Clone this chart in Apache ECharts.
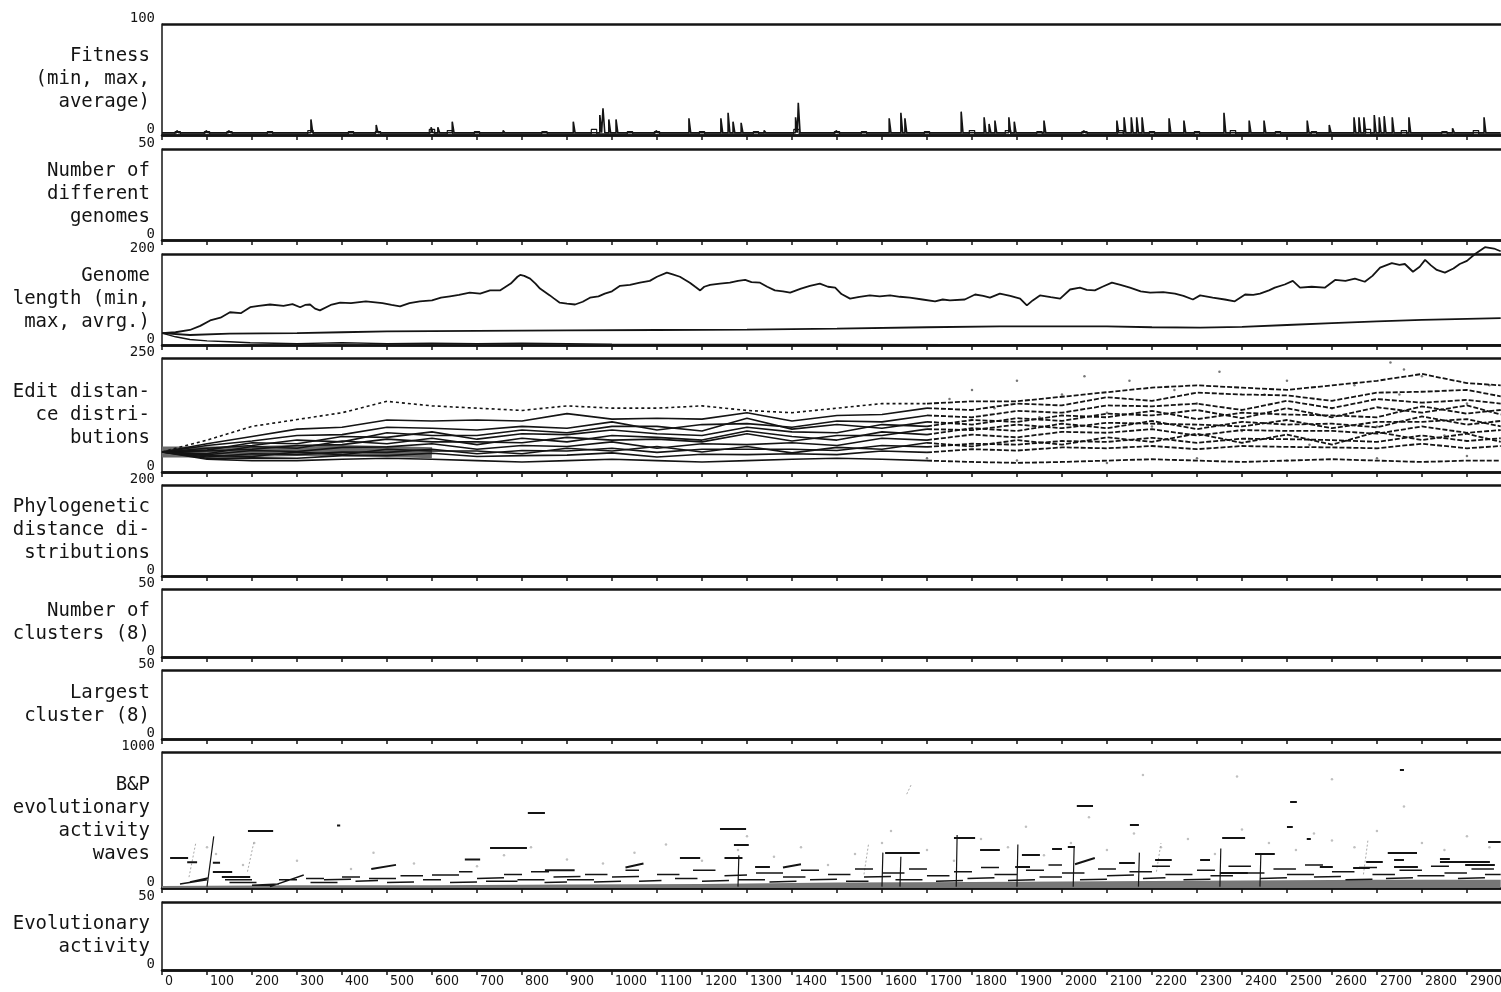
<!DOCTYPE html>
<html><head><meta charset="utf-8">
<script src="https://cdn.jsdelivr.net/npm/echarts@6/dist/echarts.min.js"></script>
<style>html,body{margin:0;padding:0;background:#fff}#c{width:1501px;height:992px}</style>
</head><body><div id="c"></div>
<script>
// ---------------- DATA ----------------
const panelNames = [
  'Fitness\n(min, max,\naverage)',
  'Number of\ndifferent\ngenomes',
  'Genome\nlength (min,\nmax, avrg.)',
  'Edit distan-\nce distri-\nbutions',
  'Phylogenetic\ndistance di-\nstributions',
  'Number of\nclusters (8)',
  'Largest\ncluster (8)',
  'B&P\nevolutionary\nactivity\nwaves',
  'Evolutionary\nactivity'
];
const panelMax = [100, 50, 200, 250, 200, 50, 50, 1000, 50];
const xMin = 0, xEnd = 2975;

// Fitness: max-fitness spikes and average-fitness bumps
const fitMaxBase = 2;
const fitSpikeGen = [35,100,150,333,478,600,615,647,760,916,975,982,995,1011,1100,1173,1244,1260,1271,1289,1340,1410,1416,1500,1618,1644,1653,1778,1829,1840,1853,1884,1896,1962,2050,2124,2140,2156,2168,2180,2240,2273,2362,2418,2451,2547,2596,2651,2662,2673,2696,2707,2718,2736,2773,2870,2940];
const fitSpikeVal = [4,4,4,14,9,7,7,12,4,12,18,24,14,14,4,15,15,20,12,11,4,16,29,4,15,20,15,21,16,10,13,16,12,13,4,13,16,16,16,16,15,13,20,13,13,13,9,16,16,16,18,16,17,16,16,6,16];
const fitAvgBase = 1;
const fitAvgGen = [35,100,150,240,330,420,480,600,640,700,850,960,1040,1100,1200,1320,1410,1500,1560,1700,1800,1880,1950,2050,2130,2200,2300,2380,2480,2560,2680,2760,2850,2920];
const fitAvgVal = [3,3,3,3,4,3,3,5,4,3,3,5,3,3,3,3,5,3,3,3,4,4,3,3,4,3,3,4,3,3,5,4,3,4];

// Genome length
const gMaxGen = [0,30,62,85,107,130,151,175,196,215,240,270,290,307,318,329,340,351,375,396,420,453,490,510,529,550,573,600,620,640,660,684,707,729,751,775,790,796,805,818,830,840,862,870,884,900,918,935,951,970,984,1000,1018,1040,1062,1084,1100,1122,1135,1151,1173,1185,1196,1205,1218,1240,1262,1280,1296,1310,1329,1345,1362,1380,1396,1420,1440,1462,1480,1496,1510,1529,1550,1573,1595,1618,1640,1662,1690,1718,1735,1751,1784,1807,1825,1840,1862,1885,1907,1922,1935,1951,1975,1996,2018,2040,2055,2073,2090,2111,2130,2151,2175,2196,2225,2251,2270,2291,2307,2335,2362,2384,2407,2425,2440,2460,2473,2495,2513,2529,2555,2584,2607,2630,2651,2673,2690,2707,2733,2750,2762,2780,2795,2807,2820,2833,2851,2870,2884,2900,2918,2940,2960,2975];
const gMaxVal = [26,28,33,42,54,60,72,70,83,86,89,86,90,83,88,89,80,76,88,93,92,96,92,88,85,92,96,98,104,107,110,115,113,120,120,135,150,154,152,146,135,124,109,103,93,91,89,95,104,107,113,118,130,132,137,141,150,159,155,150,137,128,120,128,132,135,137,141,143,138,137,128,120,118,115,124,130,135,128,126,112,102,106,109,107,109,106,104,100,96,100,98,100,111,108,104,113,108,102,87,98,109,105,102,122,126,121,120,128,137,132,126,118,115,116,113,108,100,109,104,100,96,111,110,113,120,126,133,141,126,128,126,143,141,146,139,152,170,180,176,178,161,172,187,175,165,159,168,178,185,200,215,212,206];
const gAvgGen = [0,62,150,300,400,500,700,900,1100,1300,1500,1700,1862,2000,2100,2200,2307,2400,2500,2600,2700,2800,2975];
const gAvgVal = [26,22,25,26,28,30,31,32,33,34,36,39,41,41,41,39,38,40,44,48,52,55,59];
const gMinGen = [0,30,62,100,150,196,250,300,400,500,600,700,800,900,1000,1500,2000,2975];
const gMinVal = [26,18,12,9,7,5,4,3,5,3,4,3,4,3,2,1,0,0];

// Edit distance distributions (sampled every 100 generations)
const edGen = [0,100,200,300,400,500,600,700,800,900,1000,1100,1200,1300,1400,1500,1600,1700,1800,1900,2000,2100,2200,2300,2400,2500,2600,2700,2800,2900,2975];
const edT1 = [44,70,100,115,130,155,145,140,135,145,140,140,145,135,130,140,150,150,155,155,165,175,185,190,185,180,190,200,215,195,190];
const edT2 = [44,62,78,94,98,114,112,114,112,128,116,118,116,130,112,124,126,140,136,150,146,164,156,174,170,168,156,174,176,180,166];
const edT3 = [44,58,68,80,82,98,96,92,100,96,110,92,104,106,98,112,110,124,120,134,130,146,144,150,136,156,140,160,152,158,150];
const edT4 = [44,48,64,62,78,76,88,72,84,82,92,84,80,98,88,86,104,100,114,110,124,120,134,116,130,126,124,120,144,128,136];
const edT5 = [44,46,50,58,60,72,66,66,64,76,70,72,66,84,68,80,80,94,92,104,96,108,106,104,100,114,96,110,110,116,100];
const edT6 = [44,38,47,45,54,55,62,50,58,56,66,52,62,60,64,58,74,70,82,76,88,86,94,80,92,90,90,84,100,86,92];
const edT7 = [44,33,40,38,44,43,50,40,47,46,52,43,50,50,50,47,58,55,62,60,68,66,75,64,73,72,70,66,80,68,74];
const edT8 = [44,30,31,30,36,36,41,34,36,37,42,33,39,38,40,38,46,43,50,47,54,52,57,50,57,55,54,52,62,52,57];
const edT9 = [44,28,25,25,28,30,28,25,22,25,28,25,22,25,28,30,28,25,22,20,22,25,28,25,22,25,28,25,22,25,25];
const edT10 = [44,52,58,70,66,86,80,80,92,86,100,100,90,118,94,104,96,110,104,118,112,128,124,136,118,140,120,142,130,146,126];
const edT11 = [44,40,56,52,68,62,74,60,74,66,80,76,70,90,78,70,88,82,96,90,106,96,112,94,110,104,106,98,122,104,112];
const edT12 = [44,36,34,44,38,50,46,46,40,52,46,56,44,56,42,54,50,64,56,70,60,76,66,84,64,82,60,88,70,84,66];
const edBandGen = [0,100,200,300,400,500,600];
const edBandVal = [44,44,45,47,47,45,42];
const edDotGen = [1700,1750,1800,1850,1900,1900,1950,2000,2050,2100,2100,2150,2200,2250,2300,2300,2350,2400,2450,2500,2500,2550,2600,2650,2700,2700,2730,2750,2760,2800,2850,2900,2900,2950];
const edDotVal = [30,160,180,140,200,25,120,170,210,130,20,200,100,180,150,30,220,90,170,200,25,60,140,190,100,30,240,170,225,210,80,150,35,190];

// B&P evolutionary activity waves: segments [gen1, val1, gen2, val2]
const bpHighSegs = [
  [18,220,58,220],[56,190,78,190],[113,185,129,185],[113,118,156,118],[133,80,196,80],[191,420,247,420],[389,460,396,460],
  [673,210,707,210],[729,294,811,294],[813,551,851,551],[851,130,917,130],[1151,220,1196,220],[1240,434,1298,434],
  [1271,316,1304,316],[1250,220,1290,220],[1318,154,1351,154],[1607,257,1684,257],[1760,367,1807,367],[1818,279,1862,279],
  [1896,154,1929,154],[1911,242,1951,242],[1978,286,2000,286],[2013,301,2029,301],[2033,603,2069,603],[2029,175,2073,220],
  [2127,184,2162,184],[2151,463,2171,463],[2207,206,2244,206],[2307,206,2329,206],[2351,110,2413,110],[2356,367,2407,367],
  [2429,250,2473,250],[2500,448,2513,448],[2507,632,2522,632],[2544,360,2553,360],[2573,154,2602,154],[2647,147,2684,147],
  [2676,191,2713,191],[2724,257,2789,257],[2738,154,2791,154],[2738,206,2760,206],[2751,867,2760,867],[2840,213,2862,213],
  [2840,191,2951,191],[2896,169,2962,169],[2947,338,2975,338],[465,140,520,170],[1030,150,1070,180],[1380,150,1420,175]
];
const bpLowSegs = [
  [40,30,100,60],[62,44,102,73],[140,60,200,60],[150,40,210,40],[200,20,260,30],[240,10,315,95],[260,60,300,60],[320,70,360,70],
  [330,40,390,40],[360,60,420,65],[400,80,440,80],[430,50,480,55],[460,70,520,70],[500,40,560,45],[530,90,580,90],[580,60,620,60],
  [600,95,660,95],[640,40,700,45],[660,120,690,120],[700,70,760,75],[720,50,790,50],[760,100,800,100],[790,60,850,60],[820,120,860,120],
  [850,40,900,45],[870,80,930,85],[900,60,960,60],[940,100,990,100],[960,45,1020,50],[1000,80,1060,85],[1030,130,1060,130],
  [1060,50,1110,55],[1100,100,1150,100],[1140,70,1190,70],[1180,130,1230,130],[1200,50,1260,55],[1250,90,1300,95],[1280,60,1340,60],
  [1320,110,1380,110],[1350,45,1410,50],[1380,80,1430,80],[1420,130,1460,130],[1440,60,1500,65],[1480,100,1530,100],[1520,50,1570,50],
  [1540,140,1580,140],[1560,80,1620,85],[1600,110,1650,110],[1630,60,1690,60],[1660,140,1700,140],[1700,90,1750,90],[1720,50,1780,55],
  [1760,120,1800,120],[1790,70,1850,75],[1820,150,1860,150],[1850,100,1900,100],[1880,55,1940,60],[1920,130,1960,130],[1950,80,2000,80],
  [1970,170,2000,170],[2000,110,2050,110],[2040,60,2100,65],[2080,140,2120,140],[2100,90,2160,95],[2150,120,2200,120],[2180,70,2230,75],
  [2200,160,2240,160],[2230,100,2290,100],[2270,60,2330,65],[2300,130,2340,130],[2330,90,2380,90],[2370,160,2420,160],[2400,110,2450,110],
  [2440,70,2500,75],[2470,140,2520,140],[2500,100,2560,100],[2540,170,2580,170],[2560,80,2620,85],[2600,120,2650,120],[2630,60,2690,65],
  [2660,150,2700,150],[2690,100,2740,100],[2720,70,2780,75],[2750,130,2800,130],[2790,90,2850,90],[2820,160,2860,160],[2850,110,2900,110],
  [2880,70,2940,75],[2910,140,2960,140],[2940,100,2975,100]
];
const bpSpikes = [[100,10,115,380],[1600,10,1602,260],[1640,10,1642,230],[1765,10,1767,390],[1900,10,1902,320],[2025,10,2027,300],[2351,10,2353,290],[2440,10,2442,250],[1280,10,1282,240],[2170,10,2172,260]];
const bpGraySegs = [[60,80,75,330],[190,120,205,350],[1655,690,1665,760],[2670,100,2680,353],[1560,100,1570,320],[2210,120,2220,330]];
const bpDotGen = [100,120,180,205,300,420,470,560,700,760,820,900,980,1050,1120,1200,1280,1300,1360,1420,1480,1540,1600,1620,1700,1760,1820,1880,1920,1960,2020,2060,2100,2160,2180,2220,2280,2340,2389,2400,2460,2520,2560,2600,2600,2650,2700,2760,2800,2850,2900,2950];
const bpDotVal = [300,250,170,330,200,140,260,180,160,240,300,210,180,260,320,200,280,380,230,300,170,250,330,420,280,200,360,300,450,240,330,520,280,400,830,300,360,250,820,430,330,280,400,350,800,300,420,600,330,280,380,300];
const bpBandGen = [0,300,600,900,1200,1500,1800,2100,2400,2700,2975];
const bpBandVal = [15,20,20,25,30,40,45,50,55,60,60];

// ---------------- LAYOUT ----------------
const INK = '#141414';
const MONO = '"DejaVu Sans Mono", "Liberation Mono", monospace';
const NARROW = '"Liberation Sans Narrow", "DejaVu Sans Condensed", "Roboto Condensed", "Liberation Sans", sans-serif';
const gridTops = [24, 149, 254, 358, 485, 589, 670, 752, 902];
const gridHeights = [111, 91, 91, 114, 91, 68, 69, 136, 68];
const gridLeft = 162, gridWidth = 1345;
const xMaxAxis = 2989;
const lateIdx = 17; // index in edGen where the later, sparser part starts

function xy(g, v) { return g.map((x, i) => [x, v[i]]); }
function segData(list) { const d = []; list.forEach(s => { d.push([s[0], s[1]], [s[2], s[3]], [s[2], '-']); }); return d; }
function pulses(g, v, base, half) {
  const d = [[xMin, base]];
  g.forEach((x, i) => { d.push([x - half, base], [x - half, v[i]], [x + half, v[i]], [x + half, base]); });
  d.push([xEnd, base]); return d;
}

const grids = [], xAxes = [], yAxes = [];
for (let i = 0; i < 9; i++) {
  grids.push({ left: gridLeft, top: gridTops[i], width: gridWidth, height: gridHeights[i], show: false,
    containLabel: false, outerBoundsMode: 'none' });
  xAxes.push({
    gridIndex: i, type: 'value', min: 0, max: xMaxAxis, interval: 100,
    axisLine: { show: true, onZero: false, lineStyle: { color: INK, width: 2.5 } },
    axisTick: { show: true, inside: false, length: 5, lineStyle: { color: INK, width: 1.5 } },
    splitLine: { show: false },
    axisLabel: {
      show: i === 8, showMaxLabel: false, fontFamily: NARROW, fontSize: 14, color: INK, margin: 4,
      align: 'left', padding: [0, 0, 0, 3],
      formatter: v => (v % 100 === 0 && v <= 2900) ? String(v) : ''
    }
  });
  yAxes.push({
    gridIndex: i, type: 'value', min: 0, max: panelMax[i], interval: panelMax[i],
    axisLine: { show: true, lineStyle: { color: INK, width: 1.5 } },
    axisTick: { show: false },
    splitLine: { show: true, lineStyle: { color: INK, width: 2.5 } },
    axisLabel: { fontFamily: MONO, fontSize: 14, color: INK, margin: 7, verticalAlign: 'bottom', lineHeight: 12,
      formatter: v => String(v) },
    name: panelNames[i], nameLocation: 'middle', nameRotate: 0, nameGap: 12, nameMoveOverlap: false,
    nameTextStyle: { fontFamily: MONO, fontSize: 19, lineHeight: 23, color: INK, align: 'right', verticalAlign: 'middle' }
  });
}

function line(idx, data, opt) {
  return Object.assign({
    type: 'line', xAxisIndex: idx, yAxisIndex: idx, data: data, showSymbol: false, symbol: 'none',
    animation: false, connectNulls: false, silent: true,
    lineStyle: { color: INK, width: 1.4 }
  }, opt || {});
}

const series = [];
// Fitness
series.push(line(0, pulses(fitAvgGen, fitAvgVal, fitAvgBase, 6), { lineStyle: { color: INK, width: 1.2 } }));
series.push(line(0, pulses(fitSpikeGen, fitSpikeVal, fitMaxBase, 2), { lineStyle: { color: INK, width: 1.6 }, clip: false }));
// Genome length
series.push(line(2, xy(gMinGen, gMinVal), { lineStyle: { color: INK, width: 1.4 } }));
series.push(line(2, xy(gAvgGen, gAvgVal), { lineStyle: { color: INK, width: 1.8 } }));
series.push(line(2, xy(gMaxGen, gMaxVal), { lineStyle: { color: INK, width: 1.8 }, clip: false }));
// Edit distance
series.push(line(3, xy(edBandGen, edBandVal), { lineStyle: { color: '#6a6a6a', width: 11 } }));
[edT1, edT2, edT3, edT4, edT5, edT6, edT7, edT8, edT9, edT10, edT11, edT12].forEach((t, k) => {
  const pts = xy(edGen, t);
  series.push(line(3, pts.slice(0, lateIdx + 1), { lineStyle: { color: INK, width: 1.6, type: k === 0 ? [3, 3] : 'solid' } }));
  series.push(line(3, pts.slice(lateIdx), { lineStyle: { color: INK, width: 1.8, type: [5, 2] } }));
});
series.push({ type: 'scatter', xAxisIndex: 3, yAxisIndex: 3, data: xy(edDotGen, edDotVal), symbolSize: 2.5,
  itemStyle: { color: '#555' }, animation: false, silent: true });
// B&P waves
series.push(line(7, xy(bpBandGen, bpBandVal), { lineStyle: { width: 0 }, areaStyle: { color: '#777', opacity: 1 } }));
series.push(line(7, segData(bpGraySegs), { lineStyle: { color: '#aaa', width: 1, type: [2, 2] } }));
series.push({ type: 'scatter', xAxisIndex: 7, yAxisIndex: 7, data: xy(bpDotGen, bpDotVal), symbolSize: 2.5,
  itemStyle: { color: '#b0b0b0' }, animation: false, silent: true });
series.push(line(7, segData(bpLowSegs), { lineStyle: { color: INK, width: 1.5 } }));
series.push(line(7, segData(bpSpikes), { lineStyle: { color: INK, width: 1.2 } }));
series.push(line(7, segData(bpHighSegs), { lineStyle: { color: INK, width: 2 } }));

const chart = echarts.init(document.getElementById('c'), null, { renderer: 'canvas' });
chart.setOption({
  backgroundColor: '#ffffff',
  animation: false,
  grid: grids, xAxis: xAxes, yAxis: yAxes, series: series
});
</script></body></html>
